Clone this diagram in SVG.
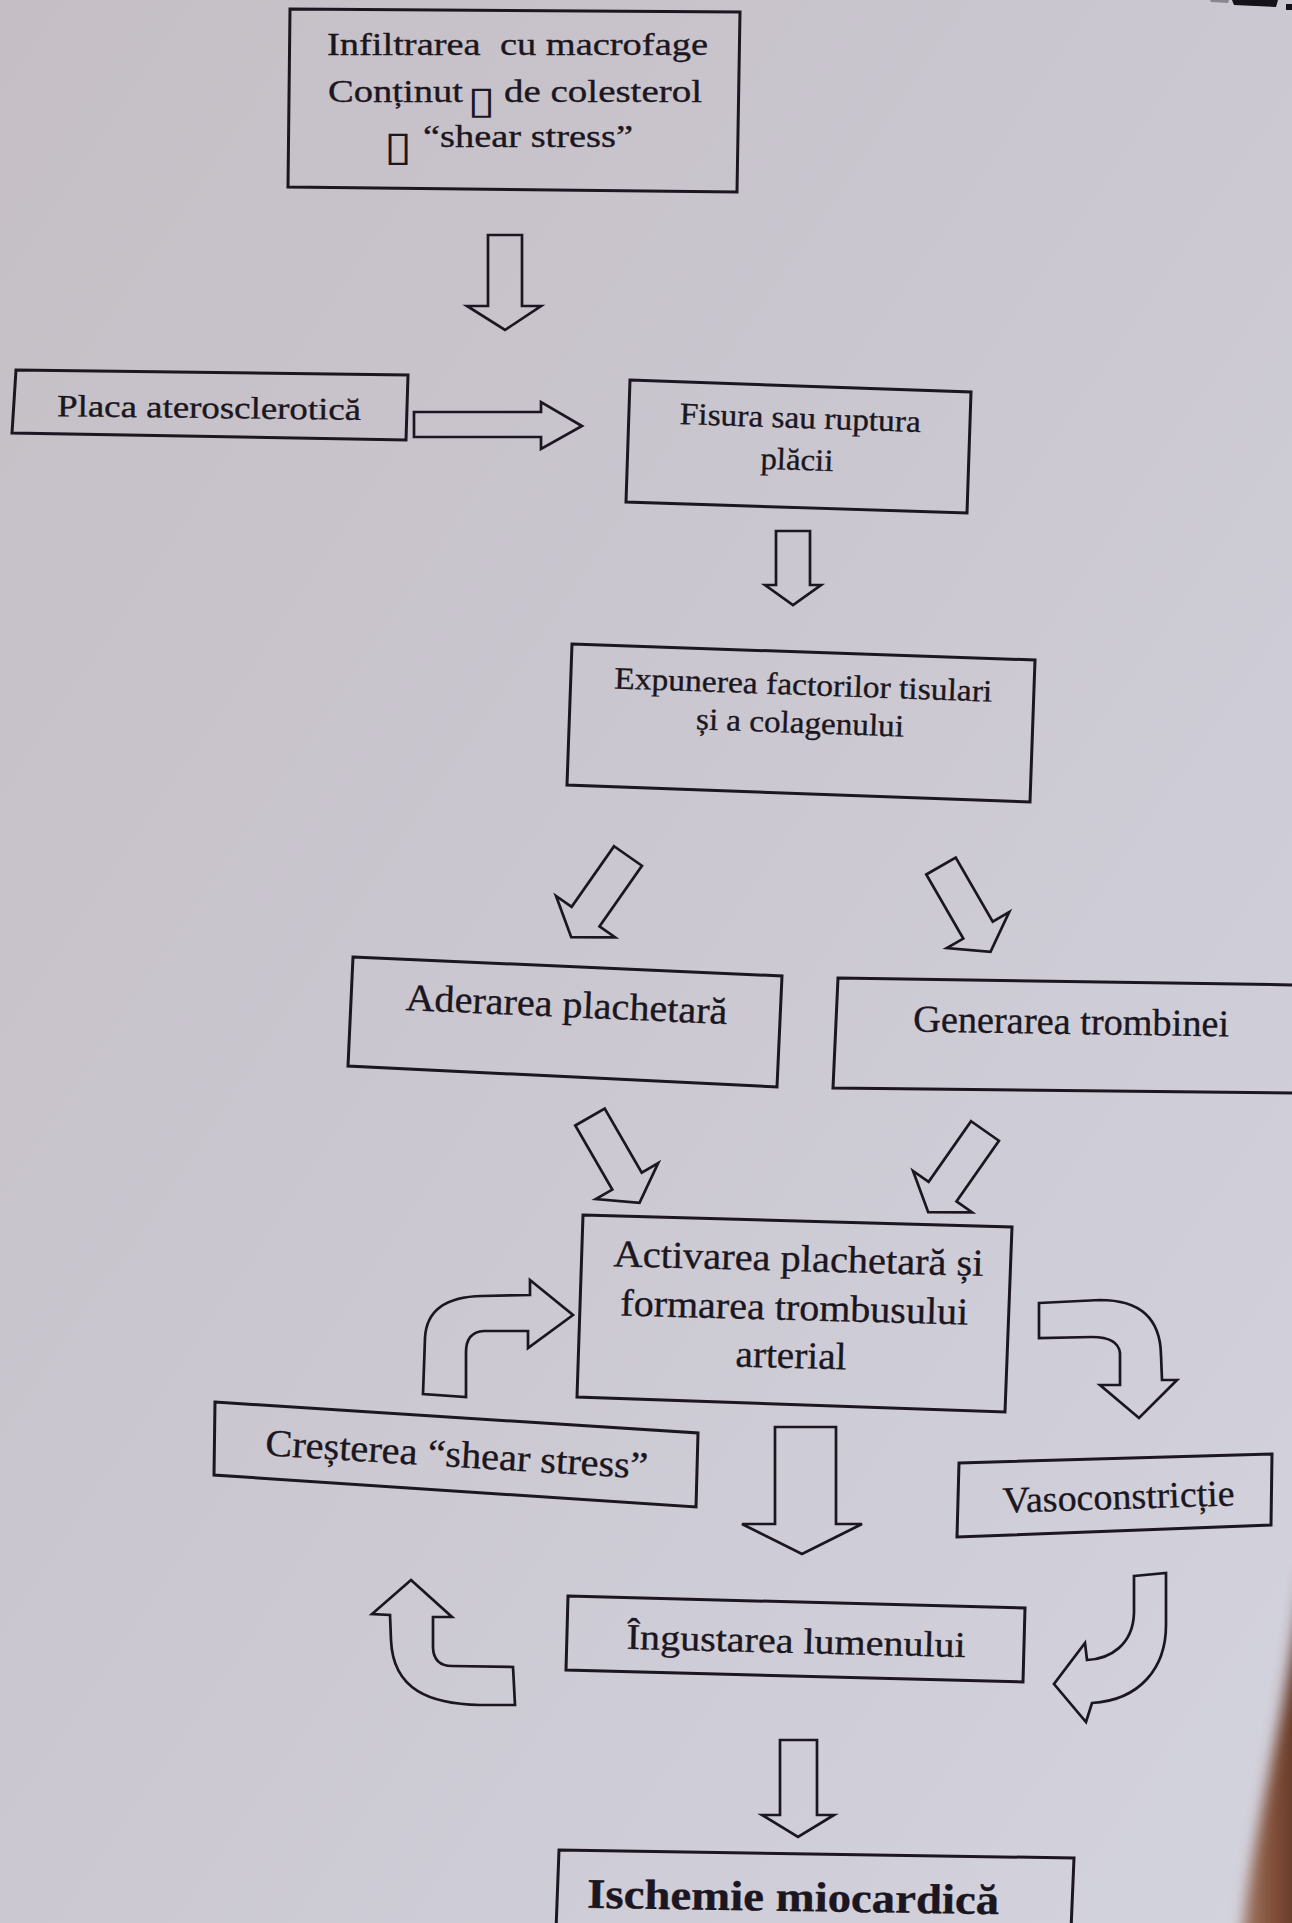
<svg xmlns="http://www.w3.org/2000/svg" width="1292" height="1923" viewBox="0 0 1292 1923">
  <defs>
    <linearGradient id="paper" x1="0" y1="0" x2="1" y2="1">
      <stop offset="0" stop-color="#c5bec5"/>
      <stop offset="0.5" stop-color="#cbc8d1"/>
      <stop offset="1" stop-color="#d3d3de"/>
    </linearGradient>
    <linearGradient id="edge" x1="0" y1="0" x2="1" y2="0">
      <stop offset="0" stop-color="#a27a66"/>
      <stop offset="0.45" stop-color="#7e4c36"/>
      <stop offset="1" stop-color="#4e2a1e"/>
    </linearGradient>
    <filter id="soft" x="-50%" y="-10%" width="200%" height="120%">
      <feGaussianBlur stdDeviation="7"/>
    </filter>
    <!-- block arrow pointing down, tail centre at the origin -->
    <polygon id="diag" points="-17,0 17,0 17,74 36,74 0,99 -36,74 -17,74"/>
  </defs>
  <style>
    .box { fill: none; stroke: #1b1620; stroke-width: 3; stroke-linejoin: miter; }
    .arr { fill: none; stroke: #1b1620; stroke-width: 2.7; stroke-linejoin: miter; }
    .t { font-family: "Liberation Serif", "Times New Roman", serif; fill: #1b1620; stroke: #1b1620; stroke-width: 0.35; }
    .c { text-anchor: middle; }
    .b { font-weight: bold; }
    .tofu { font-family: "DejaVu Sans", sans-serif; fill: #1b1620; }
  </style>

  <!-- paper -->
  <rect x="0" y="0" width="1292" height="1923" fill="url(#paper)"/>

  <!-- heading remnants cut by the top edge -->
  <g id="page-edge-marks" fill="#15121a">
    <polygon points="1210,0 1229,0 1228,3 1211,2" fill="#8a8690"/>
    <polygon points="1232,0 1278,0 1276,7 1234,5"/>
    <rect x="1286" y="4" width="6" height="6"/>
  </g>

  <!-- nodes -->
  <g id="node-infiltrare">
    <polygon class="box" points="290,9 740,12 737,192 288,187"/>
    <text class="t" x="327" y="55" font-size="32" textLength="381" lengthAdjust="spacingAndGlyphs" style="white-space:pre">Infiltrarea  cu macrofage</text>
    <text class="t" x="328" y="102" font-size="32" textLength="135" lengthAdjust="spacingAndGlyphs">Conținut</text>
    <text class="tofu" x="467" y="113" font-size="38" textLength="28" lengthAdjust="spacingAndGlyphs">▯</text>
    <text class="t" x="504" y="102" font-size="32" textLength="198" lengthAdjust="spacingAndGlyphs">de colesterol</text>
    <text class="tofu" x="384" y="160" font-size="41" textLength="28" lengthAdjust="spacingAndGlyphs">▯</text>
    <text class="t" x="423" y="147" font-size="32" textLength="210" lengthAdjust="spacingAndGlyphs">“shear stress”</text>
  </g>

  <g id="node-placa">
    <polygon class="box" points="16,370 408,375 406,440 12,433"/>
    <text class="t c" x="209" y="418" font-size="31" textLength="304" lengthAdjust="spacingAndGlyphs" transform="rotate(0.7 209 418)">Placa aterosclerotică</text>
  </g>

  <g id="node-fisura">
    <polygon class="box" points="630,380 971,392 967,513 626,502"/>
    <g transform="rotate(1.9 800 428)">
      <text class="t c" x="800" y="428" font-size="31" textLength="241" lengthAdjust="spacingAndGlyphs">Fisura sau ruptura</text>
      <text class="t c" x="798" y="470" font-size="31" textLength="73" lengthAdjust="spacingAndGlyphs">plăcii</text>
    </g>
  </g>

  <g id="node-expunerea">
    <polygon class="box" points="572,644 1035,660 1030,802 567,785"/>
    <g transform="rotate(2 803 695)">
      <text class="t c" x="803" y="695" font-size="31" textLength="378" lengthAdjust="spacingAndGlyphs">Expunerea factorilor tisulari</text>
      <text class="t c" x="801" y="733" font-size="31" textLength="208" lengthAdjust="spacingAndGlyphs">și a colagenului</text>
    </g>
  </g>

  <g id="node-aderarea">
    <polygon class="box" points="353,957 782,976 777,1087 348,1066"/>
    <text class="t c" x="566" y="1017" font-size="38" textLength="322" lengthAdjust="spacingAndGlyphs" transform="rotate(2.5 566 1017)">Aderarea plachetară</text>
  </g>

  <g id="node-generarea">
    <polygon class="box" points="838,978 1300,985 1300,1093 833,1088"/>
    <text class="t c" x="1071" y="1034" font-size="38" textLength="316" lengthAdjust="spacingAndGlyphs" transform="rotate(0.9 1071 1034)">Generarea trombinei</text>
  </g>

  <g id="node-activarea">
    <polygon class="box" points="583,1215 1012,1227 1005,1412 577,1397"/>
    <g transform="rotate(1.5 795 1320)">
      <text class="t c" x="797" y="1271" font-size="38" textLength="370" lengthAdjust="spacingAndGlyphs">Activarea plachetară și</text>
      <text class="t c" x="794" y="1320" font-size="38" textLength="348" lengthAdjust="spacingAndGlyphs">formarea trombusului</text>
      <text class="t c" x="792" y="1368" font-size="38" textLength="111" lengthAdjust="spacingAndGlyphs">arterial</text>
    </g>
  </g>

  <g id="node-crestere">
    <polygon class="box" points="215,1402 698,1433 696,1507 214,1475"/>
    <text class="t c" x="456" y="1467" font-size="38" textLength="383" lengthAdjust="spacingAndGlyphs" transform="rotate(3.5 456 1467)">Creșterea “shear stress”</text>
  </g>

  <g id="node-vasoconstrictie">
    <polygon class="box" points="959,1463 1272,1454 1271,1525 957,1537"/>
    <text class="t c" x="1119" y="1509" font-size="37" textLength="232" lengthAdjust="spacingAndGlyphs" transform="rotate(-1.8 1119 1509)">Vasoconstricție</text>
  </g>

  <g id="node-ingustarea">
    <polygon class="box" points="568,1596 1025,1608 1023,1682 566,1670"/>
    <text class="t c" x="796" y="1653" font-size="36" textLength="339" lengthAdjust="spacingAndGlyphs" transform="rotate(1.4 796 1653)">Îngustarea lumenului</text>
  </g>

  <g id="node-ischemie">
    <polygon class="box" points="559,1850 1074,1858 1071,1930 556,1930"/>
    <text class="t c b" x="793" y="1911" font-size="42" textLength="412" lengthAdjust="spacingAndGlyphs" transform="rotate(0.9 793 1911)">Ischemie miocardică</text>
  </g>

  <!-- connectors: hollow block arrows -->
  <g id="connectors">
    <polygon class="arr" points="488,235 522,235 522,306 541,306 505,330 467,306 488,306"/>
    <polygon class="arr" points="414,412 541,412 541,402 582,426 541,449 541,437 414,437"/>
    <polygon class="arr" points="776,531 810,531 810,585 821,585 793,605 765,585 776,585"/>
    <use href="#diag" class="arr" transform="translate(628 856) rotate(35)"/>
    <use href="#diag" class="arr" transform="translate(941 866) rotate(-30)"/>
    <use href="#diag" class="arr" transform="translate(590 1117) rotate(-30)"/>
    <use href="#diag" class="arr" transform="translate(985 1131) rotate(35)"/>
    <!-- feedback loop around the thrombus box -->
    <path class="arr" d="M 423 1394 L 425 1338 Q 427 1297 482 1296 L 530 1295 L 530 1280 L 573 1315 L 528 1348 L 528 1331 L 484 1331 Q 466 1332 466 1352 L 466 1397 Z"/>
    <path class="arr" d="M 1039 1303 L 1100 1300 Q 1160 1300 1161 1355 L 1162 1380 L 1177 1380 L 1139 1418 L 1100 1385 L 1120 1385 L 1120 1353 Q 1118 1337 1092 1337 L 1039 1338 Z"/>
    <polygon class="arr" points="775,1427 836,1427 836,1524 862,1524 802,1554 742,1524 775,1524"/>
    <path class="arr" d="M 411 1580 L 452 1617 L 433 1617 L 433 1648 Q 434 1666 452 1666 L 513 1667 L 515 1705 L 480 1705 C 430 1704 393 1690 391 1640 L 390 1615 L 372 1614 Z"/>
    <path class="arr" d="M 1134 1576 L 1166 1573 L 1166 1625 C 1166 1668 1140 1700 1092 1703 L 1086 1722 L 1054 1684 L 1085 1643 L 1087 1660 C 1110 1659 1133 1645 1134 1613 Z"/>
    <polygon class="arr" points="780,1740 817,1740 817,1815 834,1815 798,1837 762,1815 780,1815"/>
  </g>

  <!-- out-of-focus edge at the lower right -->
  <path d="M 1305 1560 C 1294 1650 1280 1720 1268 1780 C 1256 1840 1246 1890 1242 1940 L 1315 1940 Z" fill="url(#edge)" filter="url(#soft)"/>
</svg>
